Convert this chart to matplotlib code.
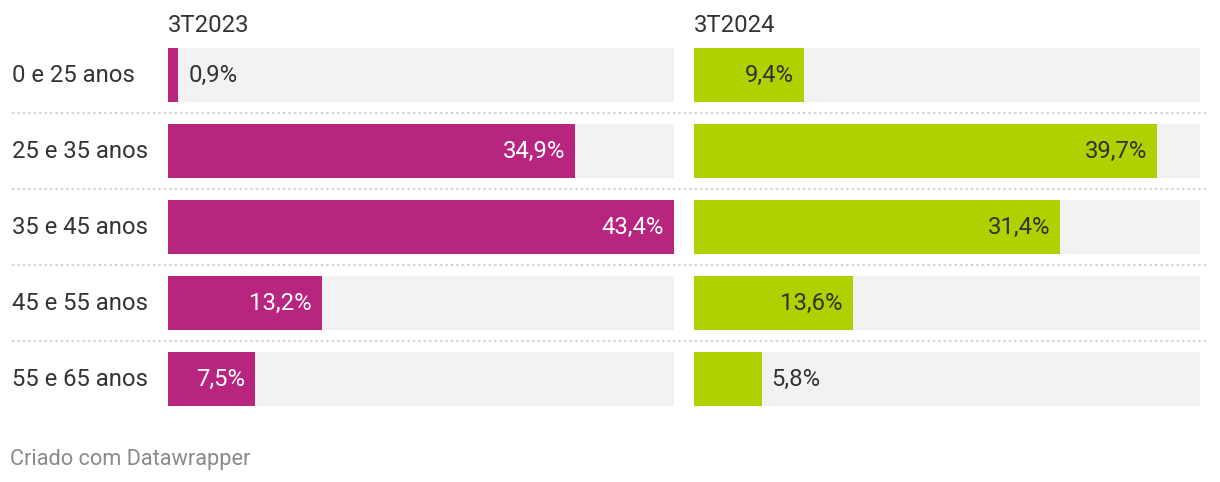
import matplotlib.pyplot as plt
from matplotlib.transforms import blended_transform_factory

plt.rcParams['font.family'] = ['Roboto', 'DejaVu Sans']

categories = ['0 e 25 anos', '25 e 35 anos', '35 e 45 anos', '45 e 55 anos', '55 e 65 anos']
series_names = ['3T2023', '3T2024']
values_2023 = [0.9, 34.9, 43.4, 13.2, 7.5]
values_2024 = [9.4, 39.7, 31.4, 13.6, 5.8]
source_note = 'Criado com Datawrapper'

W, H = 1220, 482
fig = plt.figure(figsize=(W / 100, H / 100), dpi=100)

max_val = max(values_2023 + values_2024)
colors = ['#b8257f', '#b0d100']
inside_text = ['white', '#333333']
panels = [(168, values_2023), (694, values_2024)]
panel_w = 506
top, bottom = 37, 417
fs = 17.2

axes = []
for i, (x0, vals) in enumerate(panels):
    ax = fig.add_axes([x0 / W, 1 - bottom / H, panel_w / W, (bottom - top) / H])
    ypos = range(len(categories))
    ax.barh(ypos, [max_val] * len(vals), height=0.71, color='#f2f2f2', linewidth=0)
    ax.barh(ypos, vals, height=0.71, color=colors[i], linewidth=0)
    ax.set_xlim(0, max_val)
    ax.set_ylim(len(categories) - 0.5, -0.5)
    ax.axis('off')
    px = max_val / panel_w  # data units per pixel
    for y, v in zip(ypos, vals):
        label = f'{v:.1f}%'.replace('.', ',')
        if v >= 7:
            ax.text(v - 10 * px, y, label, ha='right', va='center',
                    fontsize=fs, color=inside_text[i])
        else:
            ax.text(v + 10 * px, y, label, ha='left', va='center',
                    fontsize=fs, color='#333333')
    fig.text(x0 / W, 1 - 25 / H, series_names[i], ha='left', va='center',
             fontsize=fs, color='#333333')
    axes.append(ax)

# row labels and dotted separators
tr = blended_transform_factory(fig.transFigure, axes[0].transData)
for y, cat in enumerate(categories):
    axes[0].text(12 / W, y, cat, transform=tr, ha='left', va='center',
                 fontsize=fs, color='#333333')
for y in range(len(categories) - 1):
    axes[0].plot([12 / W, 1208 / W], [y + 0.5, y + 0.5], transform=tr,
                 color='#d6d6d6', linewidth=1.5, linestyle=(0, (1.2, 1.4)),
                 clip_on=False)

fig.text(10 / W, 1 - 459 / H, source_note, ha='left', va='center',
         fontsize=15.7, color='#8a8a8a')

fig.savefig('out.png', dpi=100, facecolor='white')
